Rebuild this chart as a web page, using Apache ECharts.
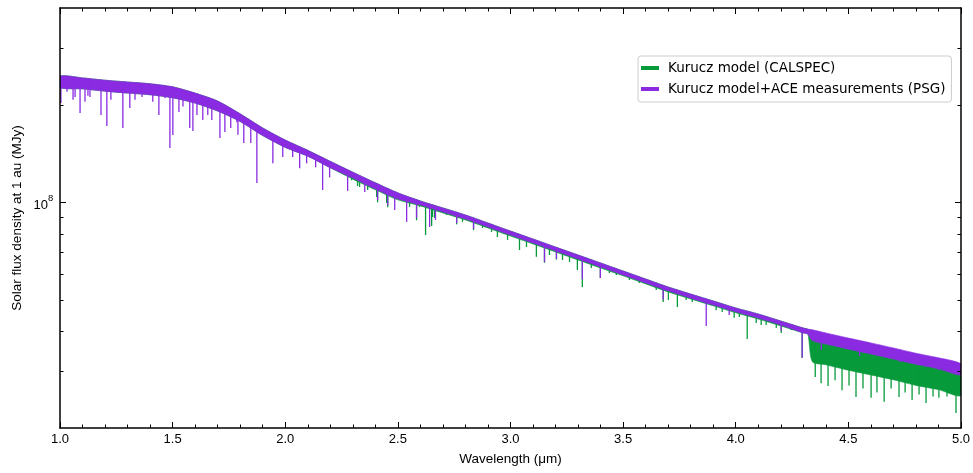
<!DOCTYPE html>
<html><head><meta charset="utf-8">
<script src="https://cdn.jsdelivr.net/npm/echarts@6/dist/echarts.min.js"></script>
<style>html,body{margin:0;padding:0;background:#fff}#c{width:973px;height:473px}</style>
</head><body><div id="c"></div>
<script>
// ---------------- data (MJy, wavelength in micrometres) ----------------
const wavelength = [1.0,1.1,1.2,1.3,1.4,1.5,1.6,1.7,1.8,1.9,2.0,2.1,2.2,2.3,2.4,2.5,2.6,2.7,2.8,2.9,3.0,3.1,3.2,3.3,3.4,3.5,3.6,3.7,3.8,3.9,4.0,4.1,4.2,4.3,4.32,4.34,4.4,4.5,4.6,4.7,4.8,4.9,5.0];

// PSG (Kurucz + ACE): upper envelope and lower edge of the dense line band
const psgTop = [2.46e8,2.43e8,2.39e8,2.36e8,2.33e8,2.28e8,2.18e8,2.06e8,1.88e8,1.70e8,1.56e8,1.45e8,1.34e8,1.24e8,1.15e8,1.07e8,1.01e8,0.961e8,0.914e8,0.863e8,0.815e8,0.770e8,0.727e8,0.687e8,0.649e8,0.613e8,0.579e8,0.547e8,0.520e8,0.495e8,0.471e8,0.451e8,0.429e8,0.408e8,0.405e8,0.403e8,0.394e8,0.380e8,0.367e8,0.354e8,0.341e8,0.330e8,0.316e8];
const psgBand = [2.27e8,2.247e8,2.21e8,2.18e8,2.154e8,2.108e8,2.03e8,1.918e8,1.78e8,1.61e8,1.48e8,1.39e8,1.28e8,1.19e8,1.10e8,1.025e8,0.982e8,0.934e8,0.888e8,0.839e8,0.792e8,0.748e8,0.707e8,0.668e8,0.631e8,0.596e8,0.563e8,0.532e8,0.505e8,0.481e8,0.458e8,0.438e8,0.417e8,0.394e8,0.391e8,0.373e8,0.364e8,0.351e8,0.339e8,0.327e8,0.315e8,0.305e8,0.292e8];
const psgLineWl = [1.004,1.031,1.058,1.067,1.089,1.111,1.124,1.133,1.182,1.208,1.226,1.279,1.310,1.333,1.364,1.412,1.439,1.466,1.488,1.501,1.528,1.546,1.576,1.590,1.608,1.634,1.656,1.674,1.710,1.732,1.758,1.785,1.790,1.816,1.847,1.874,1.945,1.989,2.033,2.064,2.095,2.135,2.166,2.197,2.277,2.353,2.410,2.455,2.486,2.539,2.583,2.641,2.667,2.761,2.836,3.151,3.204,3.319,3.399,3.678,3.869,3.971,4.202,4.295,4.380,4.550,4.730,4.900];
const psgLineMin = [2.03e8,2.20e8,2.08e8,2.12e8,1.89e8,2.05e8,2.14e8,2.12e8,1.865e8,1.725e8,2.08e8,1.70e8,1.96e8,2.08e8,2.12e8,2.05e8,1.865e8,2.10e8,1.474e8,1.617e8,1.906e8,1.98e8,1.70e8,1.664e8,1.865e8,1.80e8,1.865e8,1.80e8,1.583e8,1.652e8,1.70e8,1.77e8,1.62e8,1.528e8,1.528e8,1.148e8,1.321e8,1.382e8,1.382e8,1.275e8,1.321e8,1.284e8,1.092e8,1.195e8,1.085e8,1.077e8,1.017e8,0.98e8,0.947e8,0.870e8,0.895e8,0.839e8,0.882e8,0.863e8,0.827e8,0.654e8,0.668e8,0.578e8,0.583e8,0.50e8,0.414e8,0.448e8,0.40e8,0.330e8,0.349e8,0.334e8,0.320e8,0.3025e8];

// CALSPEC (Kurucz model)
const calTop = [2.46e8,2.43e8,2.39e8,2.36e8,2.33e8,2.28e8,2.18e8,2.06e8,1.88e8,1.70e8,1.56e8,1.45e8,1.34e8,1.24e8,1.15e8,1.07e8,1.01e8,0.961e8,0.914e8,0.863e8,0.815e8,0.770e8,0.727e8,0.687e8,0.649e8,0.613e8,0.579e8,0.547e8,0.520e8,0.495e8,0.471e8,0.451e8,0.429e8,0.408e8,0.405e8,0.389e8,0.380e8,0.367e8,0.354e8,0.342e8,0.329e8,0.318e8,0.305e8];
const calBand = [2.27e8,2.247e8,2.21e8,2.18e8,2.154e8,2.108e8,2.03e8,1.918e8,1.78e8,1.61e8,1.48e8,1.39e8,1.28e8,1.18e8,1.094e8,1.018e8,0.975e8,0.927e8,0.882e8,0.833e8,0.786e8,0.743e8,0.702e8,0.663e8,0.626e8,0.592e8,0.559e8,0.528e8,0.502e8,0.478e8,0.455e8,0.435e8,0.414e8,0.394e8,0.391e8,0.321e8,0.314e8,0.302e8,0.292e8,0.282e8,0.271e8,0.263e8,0.252e8];
const calLineWl = [2.295,2.321,2.330,2.366,2.406,2.410,2.450,2.455,2.508,2.552,2.583,2.596,2.623,2.650,2.654,2.663,2.716,2.761,2.787,2.836,2.876,2.916,2.942,2.987,3.040,3.071,3.115,3.151,3.173,3.204,3.231,3.262,3.297,3.319,3.359,3.399,3.439,3.470,3.528,3.572,3.647,3.678,3.701,3.741,3.780,3.807,3.913,3.940,3.993,4.016,4.051,4.091,4.113,4.135,4.180,4.202,4.246,4.251,4.295,4.353,4.379,4.410,4.441,4.472,4.503,4.534,4.565,4.601,4.627,4.659,4.690,4.725,4.752,4.783,4.814,4.845,4.876,4.902,4.938,4.978];
const calLineMin = [1.17e8,1.124e8,1.116e8,1.092e8,1.039e8,1.00e8,0.996e8,0.965e8,1.017e8,0.968e8,0.88e8,0.968e8,0.792e8,0.845e8,0.901e8,0.895e8,0.914e8,0.855e8,0.870e8,0.82e8,0.833e8,0.810e8,0.781e8,0.765e8,0.712e8,0.727e8,0.678e8,0.650e8,0.687e8,0.665e8,0.663e8,0.654e8,0.617e8,0.547e8,0.626e8,0.583e8,0.604e8,0.596e8,0.575e8,0.563e8,0.535e8,0.491e8,0.498e8,0.474e8,0.498e8,0.491e8,0.463e8,0.4575e8,0.439e8,0.4416e8,0.377e8,0.423e8,0.417e8,0.417e8,0.408e8,0.394e8,0.402e8,0.4025e8,0.330e8,0.288e8,0.275e8,0.270e8,0.281e8,0.262e8,0.271e8,0.2495e8,0.2653e8,0.248e8,0.2578e8,0.241e8,0.2653e8,0.2495e8,0.2578e8,0.244e8,0.2541e8,0.239e8,0.2506e8,0.248e8,0.2506e8,0.2227e8];

// axes / ticks
const xTickLabels = ['1.0','1.5','2.0','2.5','3.0','3.5','4.0','4.5','5.0'];
const yMinorTicks = [3e7,4e7,5e7,6e7,7e7,8e7,9e7,2e8,3e8];
const yMajorTicks = [1e8];
const yMajorBase = ['10'];
const yMajorExp = ['8'];
const seriesNames = ['Kurucz model (CALSPEC)','Kurucz model+ACE measurements (PSG)'];
const seriesColors = ['#079a3a','#8a2be2'];

// ---------------- chart ----------------
const FONT = 'Liberation Sans, Arial, sans-serif';
const chart = echarts.init(document.getElementById('c'), null, {renderer:'canvas'});

function bandRenderer(top, band, color){
  return function(params, api){
    const upper = [], lower = [];
    for (let i = 0; i < wavelength.length; i++) {
      upper.push(api.coord([wavelength[i], top[i]]));
      lower.push(api.coord([wavelength[i], band[i]]));
    }
    const pts = upper.concat(lower.reverse());
    return {type:'polygon', shape:{points:pts, smooth:0.25}, style:{fill:color, stroke:color, lineWidth:0.6}};
  };
}
function lineRenderer(top, color){
  return function(params, api){
    const wl = api.value(0), mn = api.value(1);
    let i = 0;
    while (i < wavelength.length - 2 && wavelength[i+1] <= wl) i++;
    const p0 = api.coord([wavelength[i], top[i]]);
    const p1 = api.coord([wavelength[i+1], top[i+1]]);
    const pb = api.coord([wl, mn]);
    const t = (pb[0] - p0[0]) / (p1[0] - p0[0]);
    const yTop = p0[1] + t * (p1[1] - p0[1]);
    return {type:'line', shape:{x1:pb[0], y1:yTop, x2:pb[0], y2:pb[1]}, style:{stroke:color, lineWidth:1.3}};
  };
}
function pairs(a, b){ return a.map((v, i) => [v, b[i]]); }

const axisLineStyle = {color:'#000', width:1.5};
chart.setOption({
  animation:false,
  grid:{left:60, right:11, top:8, bottom:45, containLabel:false},
  xAxis:[{
    type:'value', min:1, max:5, interval:0.5, position:'bottom', z:5,
    axisLine:{show:true, onZero:false, lineStyle:axisLineStyle},
    axisTick:{show:true, inside:true, length:6, lineStyle:{color:'#000', width:1}},
    minorTick:{show:true, splitNumber:5, length:3.5, lineStyle:{color:'#000', width:1}},
    axisLabel:{show:true, margin:5, color:'#000', fontSize:13, fontFamily:FONT,
      formatter:v => xTickLabels[Math.round((v - 1) / 0.5)]},
    splitLine:{show:false}, minorSplitLine:{show:false},
    name:'Wavelength (μm)', nameLocation:'middle', nameGap:24,
    nameTextStyle:{color:'#000', fontSize:13.5, fontFamily:FONT}
  },{
    type:'value', min:1, max:5, interval:0.5, position:'top', z:5,
    axisLine:{show:true, onZero:false, lineStyle:axisLineStyle},
    axisTick:{show:true, inside:true, length:6, lineStyle:{color:'#000', width:1}},
    minorTick:{show:true, splitNumber:5, length:3.5, lineStyle:{color:'#000', width:1}},
    axisLabel:{show:false}, splitLine:{show:false}
  }],
  yAxis:[{
    type:'log', logBase:10, min:2e7, max:4e8, position:'left', z:5,
    axisLine:{show:true, onZero:false, lineStyle:axisLineStyle},
    axisTick:{show:false}, axisLabel:{show:false}, splitLine:{show:false},
    name:'Solar flux density at 1 au (MJy)', nameLocation:'middle', nameGap:36,
    nameTextStyle:{color:'#000', fontSize:13.5, fontFamily:FONT}
  },{
    type:'log', logBase:10, min:2e7, max:4e8, position:'right', z:5,
    axisLine:{show:true, onZero:false, lineStyle:axisLineStyle},
    axisTick:{show:false}, axisLabel:{show:false}, splitLine:{show:false}
  }],
  legend:{
    left:638, top:56, orient:'vertical', itemWidth:18, itemHeight:4, itemGap:5,
    padding:[4,6,5,3], borderColor:'#cccccc', borderWidth:1, borderRadius:3,
    backgroundColor:'#ffffff', selectedMode:false,
    textStyle:{fontFamily:'DejaVu Sans', fontSize:13.5, color:'#000', lineHeight:16, padding:[0,0,0,4]},
    data:[
      {name:seriesNames[0], icon:'rect', itemStyle:{color:seriesColors[0]}},
      {name:seriesNames[1], icon:'rect', itemStyle:{color:seriesColors[1]}}
    ]
  },
  series:[
    {type:'custom', name:seriesNames[0], clip:true, z:2, itemStyle:{color:seriesColors[0]},
     renderItem:bandRenderer(calTop, calBand, seriesColors[0]), data:[[3, 1e8]]},
    {type:'custom', name:seriesNames[0], clip:true, z:2, itemStyle:{color:seriesColors[0]},
     renderItem:lineRenderer(calTop, seriesColors[0]), data:pairs(calLineWl, calLineMin)},
    {type:'custom', name:seriesNames[1], clip:true, z:2, itemStyle:{color:seriesColors[1]},
     renderItem:bandRenderer(psgTop, psgBand, seriesColors[1]), data:[[3, 1e8]]},
    {type:'custom', name:seriesNames[1], clip:true, z:2, itemStyle:{color:seriesColors[1]},
     renderItem:lineRenderer(psgTop, seriesColors[1]), data:pairs(psgLineWl, psgLineMin)}
  ]
});

// y ticks (log minor ticks) and the 10^8 label, positioned by the axis itself
const xL = chart.convertToPixel({xAxisIndex:0}, 1);
const xR = chart.convertToPixel({xAxisIndex:0}, 5);
const els = [];
function tick(v, len){
  const y = Math.round(chart.convertToPixel({yAxisIndex:0}, v)) + 0.5;
  els.push({type:'line', z:10, shape:{x1:xL, y1:y, x2:xL + len, y2:y}, style:{stroke:'#000', lineWidth:1}});
  els.push({type:'line', z:10, shape:{x1:xR - len, y1:y, x2:xR, y2:y}, style:{stroke:'#000', lineWidth:1}});
  return y;
}
yMinorTicks.forEach(v => tick(v, 3.5));
yMajorTicks.forEach((v, i) => {
  const y = tick(v, 6);
  els.push({type:'text', z:10, x:xL - 12, y:y + 3, style:{text:yMajorBase[i], fontSize:13, fontFamily:FONT, fill:'#000', align:'right', verticalAlign:'middle'}});
  els.push({type:'text', z:10, x:xL - 12, y:y - 4, style:{text:yMajorExp[i], fontSize:9.5, fontFamily:FONT, fill:'#000', align:'left', verticalAlign:'middle'}});
});
chart.setOption({graphic:{elements:els}});
</script>
</body></html>
